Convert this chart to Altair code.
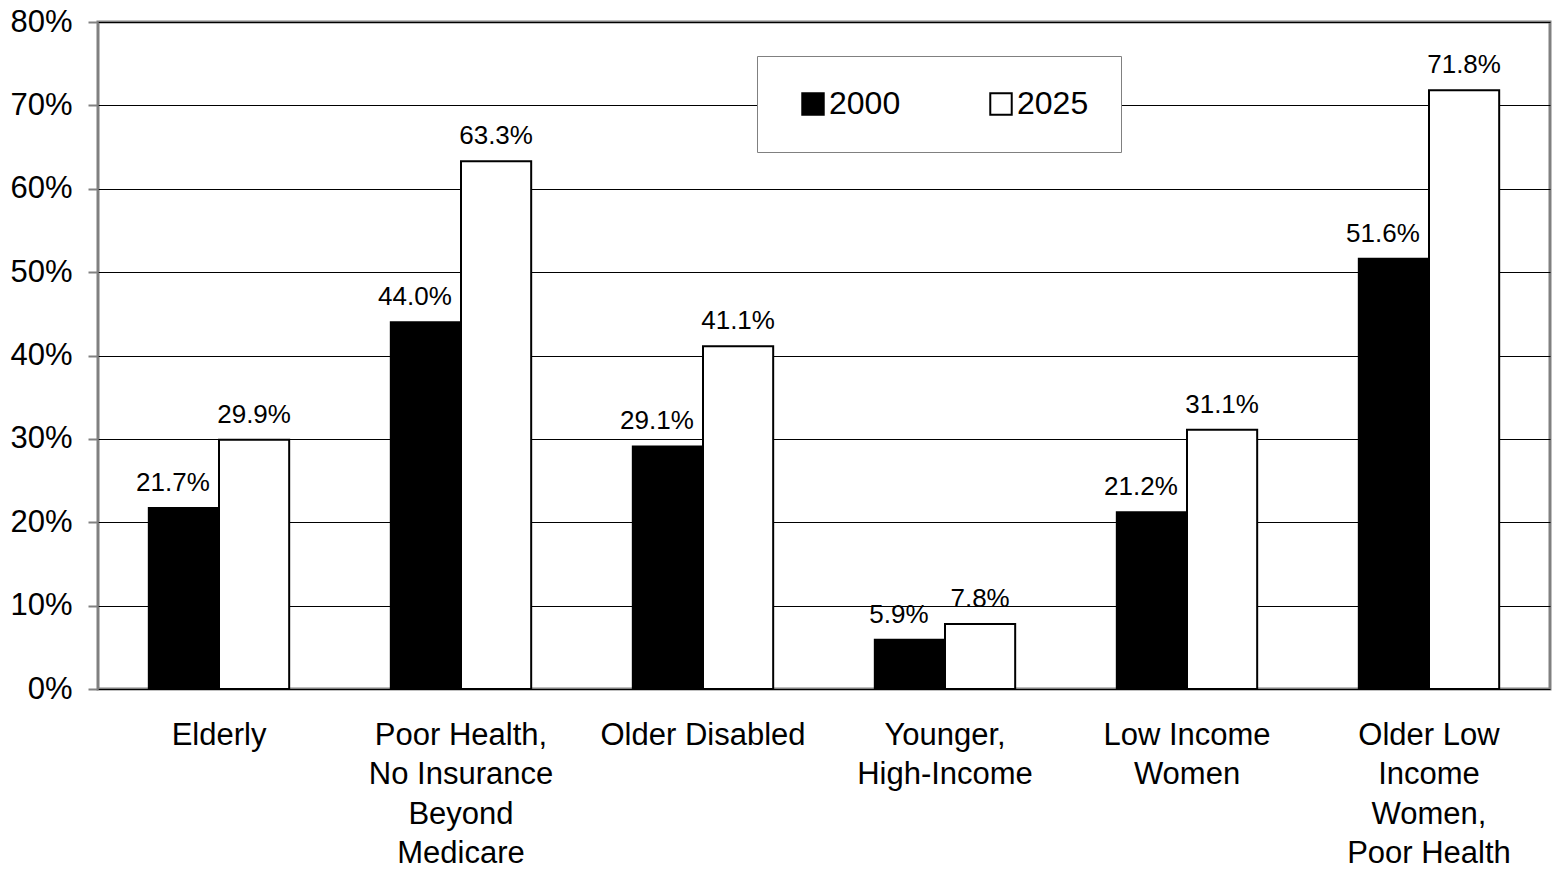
import altair as alt
import pandas as pd

categories = ["Elderly", "Poor Health,|No Insurance|Beyond|Medicare", "Older Disabled",
              "Younger,|High-Income", "Low Income|Women", "Older Low|Income|Women,|Poor Health"]
years = ["2000", "2025"]
values_2000 = [21.7, 44.0, 29.1, 5.9, 21.2, 51.6]
values_2025 = [29.9, 63.3, 41.1, 7.8, 31.1, 71.8]

rows = []
for c, a, b in zip(categories, values_2000, values_2025):
    rows.append({"cat": c, "year": "2000", "value": a})
    rows.append({"cat": c, "year": "2025", "value": b})
df = pd.DataFrame(rows)

FONT = "Liberation Sans"

x = alt.X("cat:N", sort=categories, title=None,
          scale=alt.Scale(paddingInner=0.42, paddingOuter=0.21),
          axis=alt.Axis(labelAngle=0, labelExpr="split(datum.label, '|')",
                        labelFontSize=31, labelLineHeight=39.5, labelPadding=31,
                        ticks=False, domain=False, labelColor="black", labelFont=FONT,
                        labelLimit=400))
xo = alt.XOffset("year:N", sort=years, scale=alt.Scale(paddingInner=0, paddingOuter=0))
y = alt.Y("value:Q", title=None,
          scale=alt.Scale(domain=[0, 80], nice=False),
          axis=alt.Axis(values=[0, 10, 20, 30, 40, 50, 60, 70, 80],
                        labelExpr="datum.value + '%'", labelFontSize=31,
                        labelColor="black", labelFont=FONT, labelPadding=16,
                        tickSize=10, tickColor="#808080", tickWidth=2,
                        domain=False, grid=True, gridColor="black", gridWidth=1.2))

bars = alt.Chart(df).mark_bar(stroke="black", strokeWidth=2).encode(
    x=x, xOffset=xo, y=y,
    fill=alt.Fill("year:N", sort=years,
                  scale=alt.Scale(domain=years, range=["black", "white"]),
                  legend=alt.Legend(title=None, orient="none", legendX=659, legendY=34,
                                    direction="horizontal", columns=2, columnPadding=76,
                                    symbolType="square", symbolSize=460,
                                    symbolStrokeColor="black", symbolStrokeWidth=2,
                                    symbolOffset=8,
                                    labelFontSize=32, labelFont=FONT, labelColor="black",
                                    labelOffset=0, padding=32,
                                    strokeColor="#808080", fillColor="white")),
)

base_text = alt.Chart(df).transform_calculate(
    lab="format(datum.value, '.1f') + '%'"
)
labels_2000 = base_text.transform_filter("datum.year == '2000'").mark_text(
    fontSize=26, font=FONT, color="black", baseline="alphabetic", dy=-17, dx=-11
).encode(x=x, xOffset=xo, y=y, text="lab:N")
labels_2025 = base_text.transform_filter("datum.year == '2025'").mark_text(
    fontSize=26, font=FONT, color="black", baseline="alphabetic", dy=-17
).encode(x=x, xOffset=xo, y=y, text="lab:N")

chart = alt.layer(bars, labels_2000, labels_2025).properties(
    width=1452, height=667,
    autosize=alt.AutoSizeParams(type="none"),
    padding={"left": 98, "top": 22, "right": 8, "bottom": 181},
    background="white",
).configure_view(stroke="#808080", strokeWidth=3)

chart.save("out.html", embed_options={"renderer": "svg", "actions": False})
